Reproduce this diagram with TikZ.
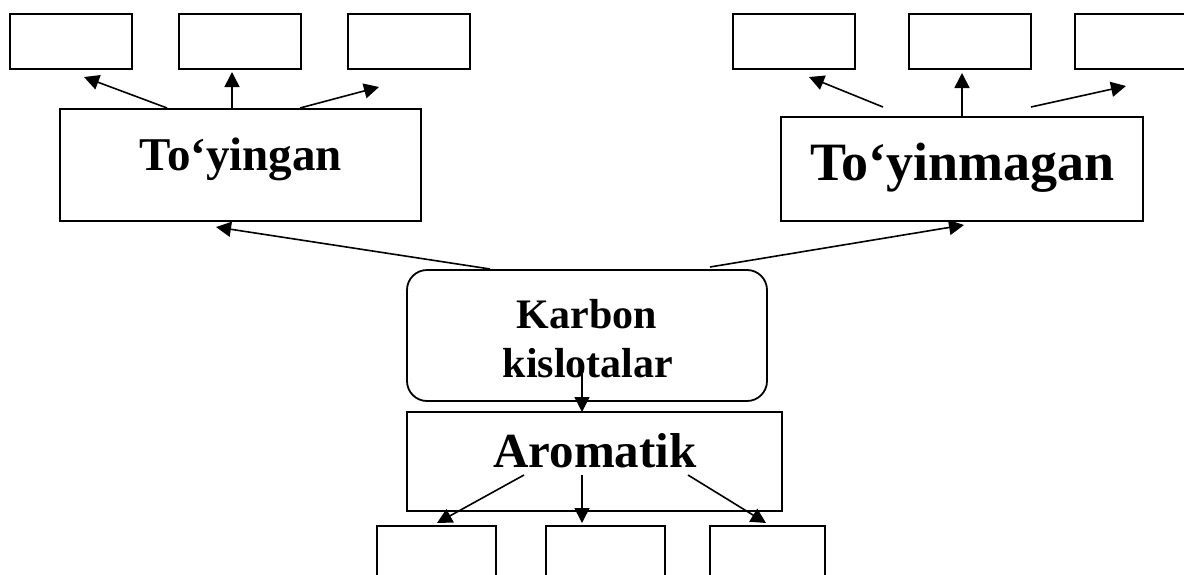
\documentclass[tikz,border=0pt]{standalone}
\usepackage{fontspec}
\setmainfont{Liberation Serif}
\usetikzlibrary{arrows.meta}
\newcommand{\setfs}[1]{\fontsize{#1}{#1}\selectfont}
\tikzstyle{box}=[draw, line width=1.8pt, inner sep=0pt]
\tikzstyle{small}=[box, minimum width=122pt, minimum height=55pt]
\tikzstyle{low}=[box, minimum width=119pt, minimum height=80pt]
\tikzstyle{lbl}=[anchor=base, inner sep=0pt, font=\bfseries]
\tikzstyle{arr}=[line width=1.6pt, -{Triangle[length=15pt,width=15pt]}]
\begin{document}
\begin{tikzpicture}[x=1pt,y=-1pt]
\useasboundingbox (0,0) rectangle (1184,574);
% empty boxes on top
\node[small] (s1) at (71,41.5) {};
\node[small] (s2) at (240,41.5) {};
\node[small] (s3) at (409,41.5) {};
\node[small] (s4) at (794,41.5) {};
\node[small] (s5) at (970,41.5) {};
\node[small] (s6) at (1136,41.5) {};
% main boxes
\node[box, minimum width=361pt, minimum height=112pt] (ty) at (240.5,165) {};
\node[lbl] (tyl) at (241,170) {\setfs{47}To‘yingan};
\node[box, minimum width=362pt, minimum height=104pt] (tm) at (962,169) {};
\node[lbl] (tml) at (962.5,180) {\setfs{54}To‘yinmagan};
\node[box, rounded corners=20pt, minimum width=360pt, minimum height=131pt] (kk) at (587,335.5) {};
\node[lbl] (kk1) at (587,328) {\setfs{42}Karbon};
\node[lbl] (kk2) at (588,377) {\setfs{42}kislotalar};
\node[box, minimum width=375pt, minimum height=99pt] (ar) at (594.5,461.5) {};
\node[lbl] (arl) at (595,467) {\setfs{49}Aromatik};
% empty boxes below
\node[low] (c1) at (436.5,566) {};
\node[low] (c2) at (605.5,566) {};
\node[low, minimum width=115pt] (c3) at (767.5,566) {};
% arrow ends
\coordinate (ty1) at (167,108);
\coordinate (ty2) at (232,109);
\coordinate (ty3) at (300,108);
\coordinate (e1) at (84,77);
\coordinate (e2) at (232,72);
\coordinate (e3) at (379,87);
\coordinate (tm1) at (883,107);
\coordinate (tm2) at (962,117);
\coordinate (tm3) at (1031,107);
\coordinate (e4) at (809,77);
\coordinate (e5) at (962,73);
\coordinate (e6) at (1126,86);
\coordinate (kl) at (490,269);
\coordinate (kr) at (710,267);
\coordinate (tyb) at (216,227);
\coordinate (tmb) at (964,225);
\coordinate (kd) at (582,373);
\coordinate (art) at (582,412);
\coordinate (ar1) at (524,475);
\coordinate (ar2) at (582,475);
\coordinate (ar3) at (688,475);
\coordinate (f1) at (437,523);
\coordinate (f2) at (582,523);
\coordinate (f3) at (766,523);
\draw[arr] (ty1) -- (e1);
\draw[arr] (ty2) -- (e2);
\draw[arr] (ty3) -- (e3);
\draw[arr] (tm1) -- (e4);
\draw[arr] (tm2) -- (e5);
\draw[arr] (tm3) -- (e6);
\draw[arr] (kl) -- (tyb);
\draw[arr] (kr) -- (tmb);
\draw[arr] (kd) -- (art);
\draw[arr] (ar1) -- (f1);
\draw[arr] (ar2) -- (f2);
\draw[arr] (ar3) -- (f3);
\end{tikzpicture}
\end{document}
